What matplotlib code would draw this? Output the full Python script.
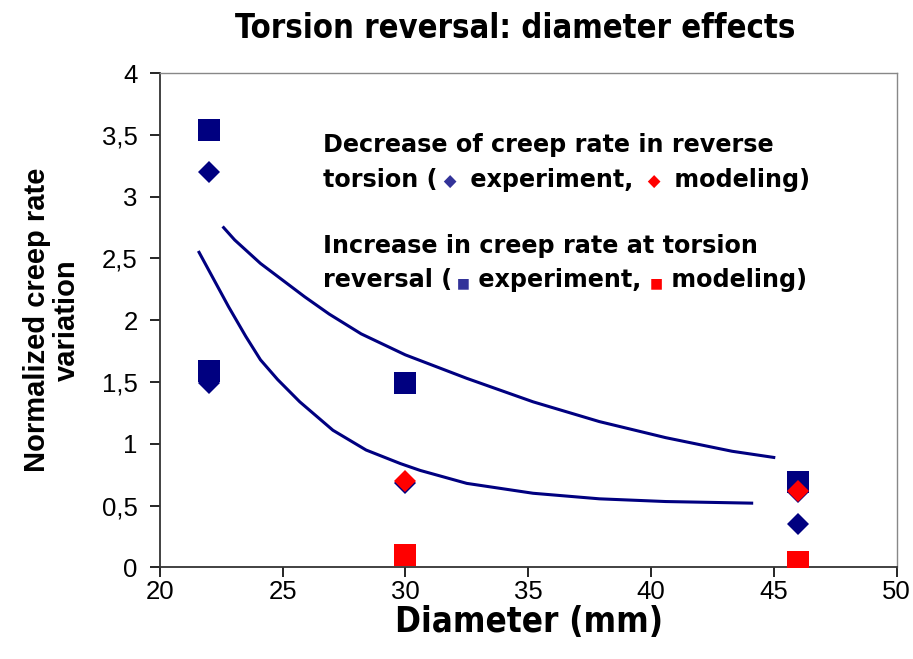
import matplotlib
matplotlib.use("Agg")
import matplotlib.pyplot as plt
from matplotlib.offsetbox import TextArea, HPacker, AnnotationBbox

# data
diam_exp_x = [22, 22, 30, 46, 46]
diam_exp_y = [3.20, 1.49, 0.685, 0.61, 0.35]
diam_mod_x = [30, 46]
diam_mod_y = [0.70, 0.62]
sq_exp_x = [22, 22, 30, 46]
sq_exp_y = [3.54, 1.59, 1.49, 0.69]
sq_mod_x = [30, 46]
sq_mod_y = [0.10, 0.04]

# trend curves
upper_x = [22.6, 23.05, 24.1, 25.5, 25.9, 26.9, 28.2, 30.0, 32.5, 35.2, 37.9, 40.6, 43.3, 45.0]
upper_y = [2.75, 2.65, 2.46, 2.25, 2.19, 2.05, 1.89, 1.72, 1.53, 1.34, 1.18, 1.05, 0.94, 0.89]
lower_x = [21.6, 22.2, 22.8, 23.5, 24.1, 24.8, 25.7, 27.05, 28.4, 29.8, 30.6, 32.5, 35.2, 37.9, 40.6, 44.1]
lower_y = [2.55, 2.33, 2.11, 1.87, 1.68, 1.52, 1.34, 1.11, 0.95, 0.84, 0.785, 0.68, 0.60, 0.555, 0.533, 0.52]

xticks = [20, 25, 30, 35, 40, 45, 50]
yticks = [0, 0.5, 1, 1.5, 2, 2.5, 3, 3.5, 4]
ytick_labels = ['0', '0,5', '1', '1,5', '2', '2,5', '3', '3,5', '4']

NAVY = '#000080'
RED = '#ff0000'
SYM = '#333399'

fig = plt.figure(figsize=(9.13, 6.59), dpi=100)
ax = fig.add_axes([0.175, 0.139, 0.807, 0.750])

ax.plot(upper_x, upper_y, color=NAVY, lw=2.2, zorder=2, solid_joinstyle='round')
ax.plot(lower_x, lower_y, color=NAVY, lw=2.2, zorder=2, solid_joinstyle='round')

ax.plot(sq_exp_x, sq_exp_y, 's', color=NAVY, ms=15.4, mew=0, zorder=3)
ax.plot(sq_mod_x, sq_mod_y, 's', color=RED, ms=15.4, mew=0, zorder=3)
ax.plot(diam_exp_x, diam_exp_y, 'D', color=NAVY, ms=11.2, mew=0, zorder=4)
ax.plot(diam_mod_x, diam_mod_y, 'D', color=RED, ms=11.2, mew=0, zorder=5)

ax.set_xlim(20, 50)
ax.set_ylim(0, 4)
ax.set_xticks(xticks)
ax.set_xticklabels([str(t) for t in xticks])
ax.set_yticks(yticks)
ax.set_yticklabels(ytick_labels)
ax.tick_params(direction='out', length=7, width=1.2, labelsize=18.5)
ax.tick_params(axis='x', pad=2)
ax.tick_params(axis='y', pad=9)
for lab in ax.get_xticklabels() + ax.get_yticklabels():
    lab.set_family('Liberation Sans')
for s in ['left', 'bottom']:
    ax.spines[s].set_color('#333333')
    ax.spines[s].set_linewidth(1.3)
for s in ['top', 'right']:
    ax.spines[s].set_color('#888888')
    ax.spines[s].set_linewidth(1.0)

fig.text(0.564, 0.957, 'Torsion reversal: diameter effects', ha='center', va='center',
         fontsize=23.5, fontweight='bold', family='DejaVu Sans', fontstretch='condensed')
fig.text(0.579, 0.056, 'Diameter (mm)', ha='center', va='center',
         fontsize=25, fontweight='bold', family='DejaVu Sans', fontstretch='condensed')
fig.text(0.057, 0.514, 'Normalized creep rate\nvariation', ha='center', va='center',
         rotation=90, fontsize=21, fontweight='bold', family='Liberation Sans',
         multialignment='center', linespacing=1.05)

# in-plot annotation text with coloured symbols
tfs = 17.2
def line(parts, y):
    kids = []
    for txt, col, fs in parts:
        kids.append(TextArea(txt, textprops=dict(color=col, fontsize=fs, fontweight='bold',
                                                 family='DejaVu Sans')))
    box = HPacker(children=kids, align='baseline', pad=0, sep=0)
    ab = AnnotationBbox(box, (323, 659 - y), xycoords='figure pixels',
                        box_alignment=(0, 0.5), frameon=False, pad=0)
    ax.add_artist(ab)

line([('Decrease of creep rate in reverse', 'black', tfs)], 145)
line([('torsion (', 'black', tfs), (' \u25c6 ', SYM, 12), (' experiment, ', 'black', tfs),
      (' \u25c6 ', RED, 12), (' modeling)', 'black', tfs)], 180)
line([('Increase in creep rate at torsion', 'black', tfs)], 246)
line([('reversal (', 'black', tfs), (' \u25a0', SYM, 10), (' experiment, ', 'black', tfs),
      ('\u25a0', RED, 10), (' modeling)', 'black', tfs)], 280)

fig.savefig('out.png', dpi=100)
